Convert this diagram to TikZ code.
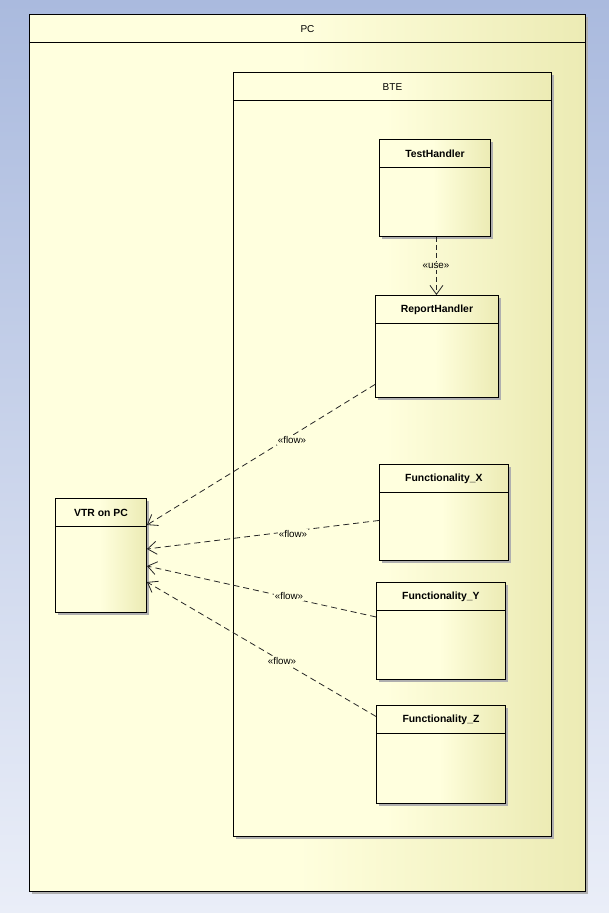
\documentclass[tikz,border=0pt]{standalone}
\usepackage{fontspec}
\setmainfont{Liberation Sans}
\usetikzlibrary{arrows.meta,shadows}
\definecolor{cream}{RGB}{255,255,222}
\definecolor{yel}{RGB}{236,235,180}
\definecolor{bgtop}{RGB}{170,186,222}
\definecolor{bgbot}{RGB}{234,238,248}
\definecolor{shadowgray}{RGB}{175,175,175}
\pgfdeclarehorizontalshading{umlfill}{100bp}{color(0bp)=(cream); color(25bp)=(cream); color(49bp)=(cream); color(75bp)=(yel); color(100bp)=(yel)}
\tikzset{
  umlbox/.style={rectangle, draw=black, line width=0.9pt, shading=umlfill, anchor=north west, inner sep=0pt,
     drop shadow={shadow xshift=3pt, shadow yshift=-3pt, fill=shadowgray, opacity=1}},
  boxtitle/.style={font=\fontsize{10.4}{12}\selectfont\bfseries, inner sep=0pt},
  pkgtitle/.style={font=\fontsize{10}{12}\selectfont, inner sep=0pt},
  headline/.style={line width=0.9pt},
  flow/.style={draw=black!85, line width=0.8pt, dash pattern=on 6pt off 4pt, -{Straight Barb[length=9pt,width=13pt,line width=0.8pt]}},
  flowlabel/.style={font=\fontsize{9.8}{11}\selectfont, inner sep=1pt, fill=cream}
}
\begin{document}
\begin{tikzpicture}[x=1pt,y=-1pt]
\shade[top color=bgtop, bottom color=bgbot] (0,0) rectangle (609,913);
\useasboundingbox (0,0) rectangle (609,913);

% PC package
\node[umlbox, minimum width=556pt, minimum height=877pt] (pc) at (29,14) {};
\draw[headline] ([yshift=-28pt]pc.north west) -- ([yshift=-28pt]pc.north east);
\node[pkgtitle] (pcT) at ([yshift=-15pt]pc.north) {PC};

% BTE package
\node[umlbox, minimum width=318pt, minimum height=764pt] (bte) at (233,72) {};
\draw[headline] ([yshift=-28pt]bte.north west) -- ([yshift=-28pt]bte.north east);
\node[pkgtitle] (bteT) at ([yshift=-15pt]bte.north) {BTE};

% classes
\node[umlbox, minimum width=111pt, minimum height=97pt] (th) at (379,139) {};
\draw[headline] ([yshift=-28pt]th.north west) -- ([yshift=-28pt]th.north east);
\node[boxtitle] (thT) at ([yshift=-15pt]th.north) {TestHandler};

\node[umlbox, minimum width=123pt, minimum height=102pt] (rh) at (375,295) {};
\draw[headline] ([yshift=-28pt]rh.north west) -- ([yshift=-28pt]rh.north east);
\node[boxtitle] (rhT) at ([yshift=-15pt]rh.north) {ReportHandler};

\node[umlbox, minimum width=129pt, minimum height=96pt] (fx) at (379,464) {};
\draw[headline] ([yshift=-28pt]fx.north west) -- ([yshift=-28pt]fx.north east);
\node[boxtitle] (fxT) at ([yshift=-15pt]fx.north) {Functionality\_X};

\node[umlbox, minimum width=129pt, minimum height=97pt] (fy) at (376,582) {};
\draw[headline] ([yshift=-28pt]fy.north west) -- ([yshift=-28pt]fy.north east);
\node[boxtitle] (fyT) at ([yshift=-15pt]fy.north) {Functionality\_Y};

\node[umlbox, minimum width=129pt, minimum height=98pt] (fz) at (376,705) {};
\draw[headline] ([yshift=-28pt]fz.north west) -- ([yshift=-28pt]fz.north east);
\node[boxtitle] (fzT) at ([yshift=-15pt]fz.north) {Functionality\_Z};

\node[umlbox, minimum width=91pt, minimum height=114pt] (vtr) at (55,498) {};
\draw[headline] ([yshift=-28pt]vtr.north west) -- ([yshift=-28pt]vtr.north east);
\node[boxtitle] (vtrT) at ([yshift=-15pt]vtr.north) {VTR on PC};

% connectors
\draw[flow, dash pattern=on 5pt off 3pt] ([xshift=1.5pt]th.south) -- ([xshift=-0.5pt]rh.north);
\node[flowlabel, fill=cream!60!yel] (useL) at (436,266) {«use»};

\draw[flow] ([yshift=-38pt]rh.west) -- ([yshift=-27pt]vtr.north east);
\draw[flow] ([yshift=-8pt]fx.west) -- ([yshift=-51pt]vtr.north east);
\draw[flow] ([yshift=14pt]fy.west) -- ([yshift=-68pt]vtr.north east);
\draw[flow] ([yshift=38pt]fz.west) -- ([yshift=-84pt]vtr.north east);

\node[flowlabel] (l1) at (292,440) {«flow»};
\node[flowlabel] (l2) at (293,534) {«flow»};
\node[flowlabel] (l3) at (289,596) {«flow»};
\node[flowlabel] (l4) at (282,661) {«flow»};
\end{tikzpicture}
\end{document}
